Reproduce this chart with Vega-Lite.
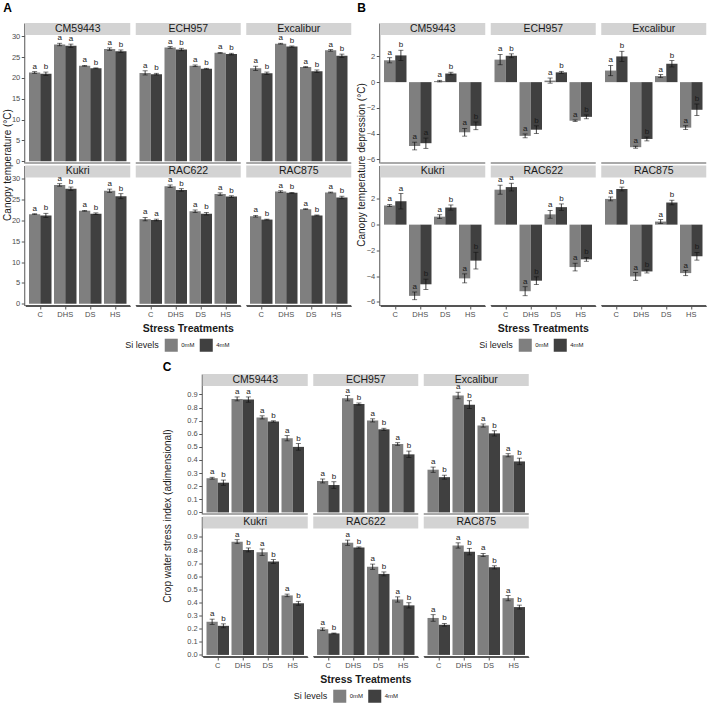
{
"$schema": "https://vega.github.io/schema/vega-lite/v6.json",
"padding": {"left": 3, "top": 2, "right": 2, "bottom": 1},
"datasets": {"d": [
{"f":"A","g":"CM59443","t":"C","s":"0mM","v":21.3,"e":0.2,"l":"a"},{"f":"A","g":"CM59443","t":"C","s":"4mM","v":21.0,"e":0.4,"l":"b"},
{"f":"A","g":"CM59443","t":"DHS","s":"0mM","v":28.0,"e":0.3,"l":"a"},{"f":"A","g":"CM59443","t":"DHS","s":"4mM","v":27.7,"e":0.4,"l":"a"},
{"f":"A","g":"CM59443","t":"DS","s":"0mM","v":22.9,"e":0.1,"l":"a"},{"f":"A","g":"CM59443","t":"DS","s":"4mM","v":22.3,"e":0.1,"l":"b"},
{"f":"A","g":"CM59443","t":"HS","s":"0mM","v":26.9,"e":0.3,"l":"a"},{"f":"A","g":"CM59443","t":"HS","s":"4mM","v":26.4,"e":0.3,"l":"b"},
{"f":"A","g":"ECH957","t":"C","s":"0mM","v":21.2,"e":0.5,"l":"a"},{"f":"A","g":"ECH957","t":"C","s":"4mM","v":20.9,"e":0.2,"l":"b"},
{"f":"A","g":"ECH957","t":"DHS","s":"0mM","v":27.3,"e":0.2,"l":"a"},{"f":"A","g":"ECH957","t":"DHS","s":"4mM","v":26.8,"e":0.3,"l":"b"},
{"f":"A","g":"ECH957","t":"DS","s":"0mM","v":22.9,"e":0.2,"l":"a"},{"f":"A","g":"ECH957","t":"DS","s":"4mM","v":22.2,"e":0.1,"l":"b"},
{"f":"A","g":"ECH957","t":"HS","s":"0mM","v":26.0,"e":0.1,"l":"a"},{"f":"A","g":"ECH957","t":"HS","s":"4mM","v":25.7,"e":0.2,"l":"b"},
{"f":"A","g":"Excalibur","t":"C","s":"0mM","v":22.3,"e":0.5,"l":"a"},{"f":"A","g":"Excalibur","t":"C","s":"4mM","v":21.1,"e":0.3,"l":"b"},
{"f":"A","g":"Excalibur","t":"DHS","s":"0mM","v":28.2,"e":0.1,"l":"a"},{"f":"A","g":"Excalibur","t":"DHS","s":"4mM","v":27.5,"e":0.15,"l":"b"},
{"f":"A","g":"Excalibur","t":"DS","s":"0mM","v":22.6,"e":0.1,"l":"a"},{"f":"A","g":"Excalibur","t":"DS","s":"4mM","v":21.6,"e":0.3,"l":"b"},
{"f":"A","g":"Excalibur","t":"HS","s":"0mM","v":26.6,"e":0.2,"l":"a"},{"f":"A","g":"Excalibur","t":"HS","s":"4mM","v":25.3,"e":0.4,"l":"b"},
{"f":"A","g":"Kukri","t":"C","s":"0mM","v":21.5,"e":0.1,"l":"a"},{"f":"A","g":"Kukri","t":"C","s":"4mM","v":21.2,"e":0.5,"l":"b"},
{"f":"A","g":"Kukri","t":"DHS","s":"0mM","v":28.5,"e":0.3,"l":"a"},{"f":"A","g":"Kukri","t":"DHS","s":"4mM","v":27.6,"e":0.4,"l":"b"},
{"f":"A","g":"Kukri","t":"DS","s":"0mM","v":22.3,"e":0.1,"l":"a"},{"f":"A","g":"Kukri","t":"DS","s":"4mM","v":21.6,"e":0.2,"l":"b"},
{"f":"A","g":"Kukri","t":"HS","s":"0mM","v":27.1,"e":0.4,"l":"a"},{"f":"A","g":"Kukri","t":"HS","s":"4mM","v":25.8,"e":0.6,"l":"b"},
{"f":"A","g":"RAC622","t":"C","s":"0mM","v":20.3,"e":0.4,"l":"a"},{"f":"A","g":"RAC622","t":"C","s":"4mM","v":20.1,"e":0.2,"l":"a"},
{"f":"A","g":"RAC622","t":"DHS","s":"0mM","v":28.2,"e":0.3,"l":"a"},{"f":"A","g":"RAC622","t":"DHS","s":"4mM","v":27.3,"e":0.3,"l":"b"},
{"f":"A","g":"RAC622","t":"DS","s":"0mM","v":22.2,"e":0.3,"l":"a"},{"f":"A","g":"RAC622","t":"DS","s":"4mM","v":21.6,"e":0.3,"l":"b"},
{"f":"A","g":"RAC622","t":"HS","s":"0mM","v":26.3,"e":0.3,"l":"a"},{"f":"A","g":"RAC622","t":"HS","s":"4mM","v":25.7,"e":0.2,"l":"b"},
{"f":"A","g":"RAC875","t":"C","s":"0mM","v":21.0,"e":0.2,"l":"a"},{"f":"A","g":"RAC875","t":"C","s":"4mM","v":20.2,"e":0.1,"l":"b"},
{"f":"A","g":"RAC875","t":"DHS","s":"0mM","v":26.9,"e":0.2,"l":"a"},{"f":"A","g":"RAC875","t":"DHS","s":"4mM","v":26.6,"e":0.1,"l":"b"},
{"f":"A","g":"RAC875","t":"DS","s":"0mM","v":22.7,"e":0.1,"l":"a"},{"f":"A","g":"RAC875","t":"DS","s":"4mM","v":21.2,"e":0.1,"l":"b"},
{"f":"A","g":"RAC875","t":"HS","s":"0mM","v":26.7,"e":0.1,"l":"a"},{"f":"A","g":"RAC875","t":"HS","s":"4mM","v":25.5,"e":0.3,"l":"b"},

{"f":"B","g":"CM59443","t":"C","s":"0mM","v":1.7,"e":0.2,"l":"a"},{"f":"B","g":"CM59443","t":"C","s":"4mM","v":2.08,"e":0.4,"l":"b"},
{"f":"B","g":"CM59443","t":"DHS","s":"0mM","v":-4.97,"e":0.3,"l":"a"},{"f":"B","g":"CM59443","t":"DHS","s":"4mM","v":-4.75,"e":0.4,"l":"a"},
{"f":"B","g":"CM59443","t":"DS","s":"0mM","v":0.08,"e":0.06,"l":"a"},{"f":"B","g":"CM59443","t":"DS","s":"4mM","v":0.67,"e":0.1,"l":"b"},
{"f":"B","g":"CM59443","t":"HS","s":"0mM","v":-3.9,"e":0.3,"l":"a"},{"f":"B","g":"CM59443","t":"HS","s":"4mM","v":-3.4,"e":0.3,"l":"b"},
{"f":"B","g":"ECH957","t":"C","s":"0mM","v":1.75,"e":0.4,"l":"a"},{"f":"B","g":"ECH957","t":"C","s":"4mM","v":2.05,"e":0.15,"l":"b"},
{"f":"B","g":"ECH957","t":"DHS","s":"0mM","v":-4.18,"e":0.15,"l":"a"},{"f":"B","g":"ECH957","t":"DHS","s":"4mM","v":-3.7,"e":0.3,"l":"b"},
{"f":"B","g":"ECH957","t":"DS","s":"0mM","v":0.12,"e":0.2,"l":"a"},{"f":"B","g":"ECH957","t":"DS","s":"4mM","v":0.76,"e":0.08,"l":"b"},
{"f":"B","g":"ECH957","t":"HS","s":"0mM","v":-3.0,"e":0.06,"l":"a"},{"f":"B","g":"ECH957","t":"HS","s":"4mM","v":-2.7,"e":0.15,"l":"b"},
{"f":"B","g":"Excalibur","t":"C","s":"0mM","v":0.9,"e":0.4,"l":"a"},{"f":"B","g":"Excalibur","t":"C","s":"4mM","v":2.0,"e":0.4,"l":"b"},
{"f":"B","g":"Excalibur","t":"DHS","s":"0mM","v":-5.06,"e":0.08,"l":"a"},{"f":"B","g":"Excalibur","t":"DHS","s":"4mM","v":-4.42,"e":0.15,"l":"b"},
{"f":"B","g":"Excalibur","t":"DS","s":"0mM","v":0.47,"e":0.12,"l":"a"},{"f":"B","g":"Excalibur","t":"DS","s":"4mM","v":1.43,"e":0.25,"l":"b"},
{"f":"B","g":"Excalibur","t":"HS","s":"0mM","v":-3.54,"e":0.15,"l":"a"},{"f":"B","g":"Excalibur","t":"HS","s":"4mM","v":-2.15,"e":0.45,"l":"b"},
{"f":"B","g":"Kukri","t":"C","s":"0mM","v":1.49,"e":0.08,"l":"a"},{"f":"B","g":"Kukri","t":"C","s":"4mM","v":1.82,"e":0.6,"l":"a"},
{"f":"B","g":"Kukri","t":"DHS","s":"0mM","v":-5.54,"e":0.3,"l":"a"},{"f":"B","g":"Kukri","t":"DHS","s":"4mM","v":-4.64,"e":0.4,"l":"b"},
{"f":"B","g":"Kukri","t":"DS","s":"0mM","v":0.62,"e":0.15,"l":"a"},{"f":"B","g":"Kukri","t":"DS","s":"4mM","v":1.33,"e":0.2,"l":"b"},
{"f":"B","g":"Kukri","t":"HS","s":"0mM","v":-4.18,"e":0.35,"l":"a"},{"f":"B","g":"Kukri","t":"HS","s":"4mM","v":-2.8,"e":0.65,"l":"b"},
{"f":"B","g":"RAC622","t":"C","s":"0mM","v":2.72,"e":0.35,"l":"a"},{"f":"B","g":"RAC622","t":"C","s":"4mM","v":2.92,"e":0.3,"l":"a"},
{"f":"B","g":"RAC622","t":"DHS","s":"0mM","v":-5.18,"e":0.35,"l":"a"},{"f":"B","g":"RAC622","t":"DHS","s":"4mM","v":-4.36,"e":0.3,"l":"b"},
{"f":"B","g":"RAC622","t":"DS","s":"0mM","v":0.8,"e":0.3,"l":"a"},{"f":"B","g":"RAC622","t":"DS","s":"4mM","v":1.36,"e":0.25,"l":"b"},
{"f":"B","g":"RAC622","t":"HS","s":"0mM","v":-3.3,"e":0.3,"l":"a"},{"f":"B","g":"RAC622","t":"HS","s":"4mM","v":-2.7,"e":0.15,"l":"b"},
{"f":"B","g":"RAC875","t":"C","s":"0mM","v":2.0,"e":0.15,"l":"a"},{"f":"B","g":"RAC875","t":"C","s":"4mM","v":2.77,"e":0.15,"l":"b"},
{"f":"B","g":"RAC875","t":"DHS","s":"0mM","v":-4.03,"e":0.3,"l":"a"},{"f":"B","g":"RAC875","t":"DHS","s":"4mM","v":-3.64,"e":0.12,"l":"b"},
{"f":"B","g":"RAC875","t":"DS","s":"0mM","v":0.24,"e":0.15,"l":"a"},{"f":"B","g":"RAC875","t":"DS","s":"4mM","v":1.72,"e":0.18,"l":"b"},
{"f":"B","g":"RAC875","t":"HS","s":"0mM","v":-3.77,"e":0.2,"l":"a"},{"f":"B","g":"RAC875","t":"HS","s":"4mM","v":-2.46,"e":0.3,"l":"b"},

{"f":"C","g":"CM59443","t":"C","s":"0mM","v":0.261,"e":0.007,"l":"a"},{"f":"C","g":"CM59443","t":"C","s":"4mM","v":0.227,"e":0.02,"l":"b"},
{"f":"C","g":"CM59443","t":"DHS","s":"0mM","v":0.866,"e":0.015,"l":"a"},{"f":"C","g":"CM59443","t":"DHS","s":"4mM","v":0.861,"e":0.02,"l":"a"},
{"f":"C","g":"CM59443","t":"DS","s":"0mM","v":0.725,"e":0.012,"l":"a"},{"f":"C","g":"CM59443","t":"DS","s":"4mM","v":0.694,"e":0.005,"l":"b"},
{"f":"C","g":"CM59443","t":"HS","s":"0mM","v":0.566,"e":0.02,"l":"a"},{"f":"C","g":"CM59443","t":"HS","s":"4mM","v":0.5,"e":0.025,"l":"b"},
{"f":"C","g":"ECH957","t":"C","s":"0mM","v":0.24,"e":0.015,"l":"a"},{"f":"C","g":"ECH957","t":"C","s":"4mM","v":0.209,"e":0.025,"l":"b"},
{"f":"C","g":"ECH957","t":"DHS","s":"0mM","v":0.871,"e":0.02,"l":"a"},{"f":"C","g":"ECH957","t":"DHS","s":"4mM","v":0.827,"e":0.008,"l":"b"},
{"f":"C","g":"ECH957","t":"DS","s":"0mM","v":0.702,"e":0.012,"l":"a"},{"f":"C","g":"ECH957","t":"DS","s":"4mM","v":0.634,"e":0.008,"l":"b"},
{"f":"C","g":"ECH957","t":"HS","s":"0mM","v":0.522,"e":0.01,"l":"a"},{"f":"C","g":"ECH957","t":"HS","s":"4mM","v":0.443,"e":0.025,"l":"b"},
{"f":"C","g":"Excalibur","t":"C","s":"0mM","v":0.326,"e":0.02,"l":"a"},{"f":"C","g":"Excalibur","t":"C","s":"4mM","v":0.269,"e":0.015,"l":"b"},
{"f":"C","g":"Excalibur","t":"DHS","s":"0mM","v":0.892,"e":0.025,"l":"a"},{"f":"C","g":"Excalibur","t":"DHS","s":"4mM","v":0.822,"e":0.03,"l":"b"},
{"f":"C","g":"Excalibur","t":"DS","s":"0mM","v":0.663,"e":0.012,"l":"a"},{"f":"C","g":"Excalibur","t":"DS","s":"4mM","v":0.603,"e":0.02,"l":"b"},
{"f":"C","g":"Excalibur","t":"HS","s":"0mM","v":0.436,"e":0.012,"l":"a"},{"f":"C","g":"Excalibur","t":"HS","s":"4mM","v":0.389,"e":0.025,"l":"b"},
{"f":"C","g":"Kukri","t":"C","s":"0mM","v":0.253,"e":0.02,"l":"a"},{"f":"C","g":"Kukri","t":"C","s":"4mM","v":0.222,"e":0.015,"l":"b"},
{"f":"C","g":"Kukri","t":"DHS","s":"0mM","v":0.864,"e":0.015,"l":"a"},{"f":"C","g":"Kukri","t":"DHS","s":"4mM","v":0.801,"e":0.015,"l":"b"},
{"f":"C","g":"Kukri","t":"DS","s":"0mM","v":0.783,"e":0.025,"l":"a"},{"f":"C","g":"Kukri","t":"DS","s":"4mM","v":0.712,"e":0.015,"l":"b"},
{"f":"C","g":"Kukri","t":"HS","s":"0mM","v":0.454,"e":0.01,"l":"a"},{"f":"C","g":"Kukri","t":"HS","s":"4mM","v":0.394,"e":0.015,"l":"b"},
{"f":"C","g":"RAC622","t":"C","s":"0mM","v":0.196,"e":0.01,"l":"a"},{"f":"C","g":"RAC622","t":"C","s":"4mM","v":0.164,"e":0.003,"l":"b"},
{"f":"C","g":"RAC622","t":"DHS","s":"0mM","v":0.856,"e":0.02,"l":"a"},{"f":"C","g":"RAC622","t":"DHS","s":"4mM","v":0.819,"e":0.005,"l":"b"},
{"f":"C","g":"RAC622","t":"DS","s":"0mM","v":0.673,"e":0.02,"l":"a"},{"f":"C","g":"RAC622","t":"DS","s":"4mM","v":0.618,"e":0.015,"l":"b"},
{"f":"C","g":"RAC622","t":"HS","s":"0mM","v":0.423,"e":0.02,"l":"a"},{"f":"C","g":"RAC622","t":"HS","s":"4mM","v":0.378,"e":0.02,"l":"b"},
{"f":"C","g":"RAC875","t":"C","s":"0mM","v":0.282,"e":0.025,"l":"a"},{"f":"C","g":"RAC875","t":"C","s":"4mM","v":0.23,"e":0.01,"l":"b"},
{"f":"C","g":"RAC875","t":"DHS","s":"0mM","v":0.835,"e":0.02,"l":"a"},{"f":"C","g":"RAC875","t":"DHS","s":"4mM","v":0.788,"e":0.025,"l":"b"},
{"f":"C","g":"RAC875","t":"DS","s":"0mM","v":0.762,"e":0.012,"l":"a"},{"f":"C","g":"RAC875","t":"DS","s":"4mM","v":0.668,"e":0.012,"l":"b"},
{"f":"C","g":"RAC875","t":"HS","s":"0mM","v":0.433,"e":0.02,"l":"a"},{"f":"C","g":"RAC875","t":"HS","s":"4mM","v":0.365,"e":0.015,"l":"b"}
]},
"vconcat": [
{"hconcat": [
{
 "title": {"text": "A", "offset": 8},
 "data": {"name": "d"},
 "transform": [
  {"filter": "datum.f == 'A'"},
  {"calculate": "indexof(['CM59443','ECH957','Excalibur','Kukri','RAC622','RAC875'], datum.g)", "as": "i"},
  {"calculate": "floor(datum.i / 3)", "as": "r"},
  {"calculate": "datum.i % 3", "as": "c"},
  {"calculate": "datum.v - datum.e", "as": "lo"},
  {"calculate": "datum.v + datum.e", "as": "hi"}
 ],
 "facet": {
  "row": {"field": "r", "type": "ordinal", "header": {"title": "Canopy temperature (°C)", "labels": false, "titleOrient": "left", "titlePadding": -12}},
  "column": {"field": "c", "type": "ordinal", "header": {"title": "Stress Treatments", "labels": false, "titleOrient": "bottom", "titleFontWeight": "bold", "titleFontSize": 10.5, "titlePadding": -4}}
 },
 "spacing": {"row": 1.5, "column": 3.5},
 "spec": {
  "width": 105, "height": 140,
  "layer": [
   {"transform": [{"filter": "datum.t == 'C' && datum.s == '0mM'"}], "mark": {"type": "rect", "fill": "#d3d3d3"}, "encoding": {"y": {"datum": 30.3, "scale": {"domain": [-0.4, 33.16], "nice": false}, "title": null, "axis": {"values": [0,5,10,15,20,25,30]}}, "y2": {"datum": 33.16}}},
   {"transform": [{"filter": "datum.t == 'C' && datum.s == '0mM'"}], "mark": {"type": "text", "fontSize": 10.5, "color": "#1a1a1a", "baseline": "middle"}, "encoding": {"y": {"datum": 31.73, "scale": {"domain": [-0.4, 33.16], "nice": false}, "title": null, "axis": {"values": [0,5,10,15,20,25,30]}}, "text": {"field": "g"}}},
   {"transform": [{"filter": "datum.t == 'C' && datum.s == '0mM'"}], "mark": {"type": "rule", "color": "#555555", "strokeWidth": 1}, "encoding": {"y": {"datum": -0.4, "scale": {"domain": [-0.4, 33.16], "nice": false}, "title": null, "axis": {"values": [0,5,10,15,20,25,30]}}}},
   {"mark": {"type": "bar"}, "encoding": {
     "x": {"field": "t", "type": "nominal", "scale": {"paddingInner": 0.1, "paddingOuter": 0.15}, "title": null},
     "xOffset": {"field": "s", "type": "nominal"},
     "y": {"field": "v", "type": "quantitative", "scale": {"domain": [-0.4, 33.16], "nice": false}, "title": null, "axis": {"values": [0,5,10,15,20,25,30]}},
     "color": {"field": "s", "type": "nominal", "scale": {"domain": ["0mM","4mM"], "range": ["#7f7f7f","#404040"]}, "legend": {"title": "Si levels"}}}},
   {"mark": {"type": "rule", "color": "#111111", "strokeWidth": 0.8}, "encoding": {"x": {"field": "t", "type": "nominal"}, "xOffset": {"field": "s", "type": "nominal"}, "y": {"field": "lo", "type": "quantitative", "scale": {"domain": [-0.4, 33.16], "nice": false}, "title": null, "axis": {"values": [0,5,10,15,20,25,30]}}, "y2": {"field": "hi"}}},
   {"mark": {"type": "tick", "color": "#111111", "thickness": 0.8, "size": 5}, "encoding": {"x": {"field": "t", "type": "nominal"}, "xOffset": {"field": "s", "type": "nominal"}, "y": {"field": "lo", "type": "quantitative", "scale": {"domain": [-0.4, 33.16], "nice": false}, "title": null, "axis": {"values": [0,5,10,15,20,25,30]}}}},
   {"mark": {"type": "tick", "color": "#111111", "thickness": 0.8, "size": 5}, "encoding": {"x": {"field": "t", "type": "nominal"}, "xOffset": {"field": "s", "type": "nominal"}, "y": {"field": "hi", "type": "quantitative", "scale": {"domain": [-0.4, 33.16], "nice": false}, "title": null, "axis": {"values": [0,5,10,15,20,25,30]}}}},
   {"mark": {"type": "text", "fontSize": 8, "color": "#1a1a1a", "baseline": "bottom", "dy": -1}, "encoding": {"x": {"field": "t", "type": "nominal"}, "xOffset": {"field": "s", "type": "nominal"}, "y": {"field": "hi", "type": "quantitative", "scale": {"domain": [-0.4, 33.16], "nice": false}, "title": null, "axis": {"values": [0,5,10,15,20,25,30]}}, "text": {"field": "l"}}}
  ]
 }
},
{
 "title": {"text": "B", "offset": 8},
 "data": {"name": "d"},
 "transform": [
  {"filter": "datum.f == 'B'"},
  {"calculate": "indexof(['CM59443','ECH957','Excalibur','Kukri','RAC622','RAC875'], datum.g)", "as": "i"},
  {"calculate": "floor(datum.i / 3)", "as": "r"},
  {"calculate": "datum.i % 3", "as": "c"},
  {"calculate": "datum.v - datum.e", "as": "lo"},
  {"calculate": "datum.v + datum.e", "as": "hi"}
 ],
 "facet": {
  "row": {"field": "r", "type": "ordinal", "header": {"title": "Canopy temperature depression (°C)", "labels": false, "titleOrient": "left", "titlePadding": -12}},
  "column": {"field": "c", "type": "ordinal", "header": {"title": "Stress Treatments", "labels": false, "titleOrient": "bottom", "titleFontWeight": "bold", "titleFontSize": 10.5, "titlePadding": -4}}
 },
 "spacing": {"row": 1.5, "column": 3.5},
 "spec": {
  "width": 105, "height": 140,
  "layer": [
   {"transform": [{"filter": "datum.t == 'C' && datum.s == '0mM'"}], "mark": {"type": "rect", "fill": "#d3d3d3"}, "encoding": {"y": {"datum": 3.67, "scale": {"domain": [-6.29, 4.6], "nice": false}, "title": null, "axis": {"values": [-6,-4,-2,0,2]}}, "y2": {"datum": 4.6}}},
   {"transform": [{"filter": "datum.t == 'C' && datum.s == '0mM'"}], "mark": {"type": "text", "fontSize": 10.5, "color": "#1a1a1a", "baseline": "middle"}, "encoding": {"y": {"datum": 4.135, "scale": {"domain": [-6.29, 4.6], "nice": false}, "title": null, "axis": {"values": [-6,-4,-2,0,2]}}, "text": {"field": "g"}}},
   {"transform": [{"filter": "datum.t == 'C' && datum.s == '0mM'"}], "mark": {"type": "rule", "color": "#555555", "strokeWidth": 1}, "encoding": {"y": {"datum": -6.29, "scale": {"domain": [-6.29, 4.6], "nice": false}, "title": null, "axis": {"values": [-6,-4,-2,0,2]}}}},
   {"mark": {"type": "bar"}, "encoding": {
     "x": {"field": "t", "type": "nominal", "scale": {"paddingInner": 0.1, "paddingOuter": 0.15}, "title": null},
     "xOffset": {"field": "s", "type": "nominal"},
     "y": {"field": "v", "type": "quantitative", "scale": {"domain": [-6.29, 4.6], "nice": false}, "title": null, "axis": {"values": [-6,-4,-2,0,2]}},
     "color": {"field": "s", "type": "nominal", "scale": {"domain": ["0mM","4mM"], "range": ["#7f7f7f","#404040"]}, "legend": {"title": "Si levels"}}}},
   {"mark": {"type": "rule", "color": "#111111", "strokeWidth": 0.8}, "encoding": {"x": {"field": "t", "type": "nominal"}, "xOffset": {"field": "s", "type": "nominal"}, "y": {"field": "lo", "type": "quantitative", "scale": {"domain": [-6.29, 4.6], "nice": false}, "title": null, "axis": {"values": [-6,-4,-2,0,2]}}, "y2": {"field": "hi"}}},
   {"mark": {"type": "tick", "color": "#111111", "thickness": 0.8, "size": 5}, "encoding": {"x": {"field": "t", "type": "nominal"}, "xOffset": {"field": "s", "type": "nominal"}, "y": {"field": "lo", "type": "quantitative", "scale": {"domain": [-6.29, 4.6], "nice": false}, "title": null, "axis": {"values": [-6,-4,-2,0,2]}}}},
   {"mark": {"type": "tick", "color": "#111111", "thickness": 0.8, "size": 5}, "encoding": {"x": {"field": "t", "type": "nominal"}, "xOffset": {"field": "s", "type": "nominal"}, "y": {"field": "hi", "type": "quantitative", "scale": {"domain": [-6.29, 4.6], "nice": false}, "title": null, "axis": {"values": [-6,-4,-2,0,2]}}}},
   {"mark": {"type": "text", "fontSize": 8, "color": "#1a1a1a", "baseline": "bottom", "dy": -1}, "encoding": {"x": {"field": "t", "type": "nominal"}, "xOffset": {"field": "s", "type": "nominal"}, "y": {"field": "hi", "type": "quantitative", "scale": {"domain": [-6.29, 4.6], "nice": false}, "title": null, "axis": {"values": [-6,-4,-2,0,2]}}, "text": {"field": "l"}}}
  ]
 }
}
], "spacing": 4, "resolve": {"scale": {"color": "independent"}}},
{
 "title": {"text": "C", "offset": 0},
 "data": {"name": "d"},
 "transform": [
  {"filter": "datum.f == 'C'"},
  {"calculate": "indexof(['CM59443','ECH957','Excalibur','Kukri','RAC622','RAC875'], datum.g)", "as": "i"},
  {"calculate": "floor(datum.i / 3)", "as": "r"},
  {"calculate": "datum.i % 3", "as": "c"},
  {"calculate": "datum.v - datum.e", "as": "lo"},
  {"calculate": "datum.v + datum.e", "as": "hi"}
 ],
 "facet": {
  "row": {"field": "r", "type": "ordinal", "header": {"title": "Crop water stress index (adimensional)", "labels": false, "titleOrient": "left", "titlePadding": 4}},
  "column": {"field": "c", "type": "ordinal", "header": {"title": "Stress Treatments", "labels": false, "titleOrient": "bottom", "titleFontWeight": "bold", "titleFontSize": 10.5, "titlePadding": -4}}
 },
 "spacing": {"row": 1.5, "column": 3.5},
 "spec": {
  "width": 105, "height": 140,
  "layer": [
   {"transform": [{"filter": "datum.t == 'C' && datum.s == '0mM'"}], "mark": {"type": "rect", "fill": "#d3d3d3"}, "encoding": {"y": {"datum": 0.965, "scale": {"domain": [-0.012, 1.056], "nice": false}, "title": null, "axis": {"values": [0,0.1,0.2,0.3,0.4,0.5,0.6,0.7,0.8,0.9], "format": ".1f"}}, "y2": {"datum": 1.056}}},
   {"transform": [{"filter": "datum.t == 'C' && datum.s == '0mM'"}], "mark": {"type": "text", "fontSize": 10.5, "color": "#1a1a1a", "baseline": "middle"}, "encoding": {"y": {"datum": 1.0105, "scale": {"domain": [-0.012, 1.056], "nice": false}, "title": null, "axis": {"values": [0,0.1,0.2,0.3,0.4,0.5,0.6,0.7,0.8,0.9], "format": ".1f"}}, "text": {"field": "g"}}},
   {"transform": [{"filter": "datum.t == 'C' && datum.s == '0mM'"}], "mark": {"type": "rule", "color": "#555555", "strokeWidth": 1}, "encoding": {"y": {"datum": -0.012, "scale": {"domain": [-0.012, 1.056], "nice": false}, "title": null, "axis": {"values": [0,0.1,0.2,0.3,0.4,0.5,0.6,0.7,0.8,0.9], "format": ".1f"}}}},
   {"mark": {"type": "bar"}, "encoding": {
     "x": {"field": "t", "type": "nominal", "scale": {"paddingInner": 0.1, "paddingOuter": 0.15}, "title": null},
     "xOffset": {"field": "s", "type": "nominal"},
     "y": {"field": "v", "type": "quantitative", "scale": {"domain": [-0.012, 1.056], "nice": false}, "title": null, "axis": {"values": [0,0.1,0.2,0.3,0.4,0.5,0.6,0.7,0.8,0.9], "format": ".1f"}},
     "color": {"field": "s", "type": "nominal", "scale": {"domain": ["0mM","4mM"], "range": ["#7f7f7f","#404040"]}, "legend": {"title": "Si levels"}}}},
   {"mark": {"type": "rule", "color": "#111111", "strokeWidth": 0.8}, "encoding": {"x": {"field": "t", "type": "nominal"}, "xOffset": {"field": "s", "type": "nominal"}, "y": {"field": "lo", "type": "quantitative", "scale": {"domain": [-0.012, 1.056], "nice": false}, "title": null, "axis": {"values": [0,0.1,0.2,0.3,0.4,0.5,0.6,0.7,0.8,0.9], "format": ".1f"}}, "y2": {"field": "hi"}}},
   {"mark": {"type": "tick", "color": "#111111", "thickness": 0.8, "size": 5}, "encoding": {"x": {"field": "t", "type": "nominal"}, "xOffset": {"field": "s", "type": "nominal"}, "y": {"field": "lo", "type": "quantitative", "scale": {"domain": [-0.012, 1.056], "nice": false}, "title": null, "axis": {"values": [0,0.1,0.2,0.3,0.4,0.5,0.6,0.7,0.8,0.9], "format": ".1f"}}}},
   {"mark": {"type": "tick", "color": "#111111", "thickness": 0.8, "size": 5}, "encoding": {"x": {"field": "t", "type": "nominal"}, "xOffset": {"field": "s", "type": "nominal"}, "y": {"field": "hi", "type": "quantitative", "scale": {"domain": [-0.012, 1.056], "nice": false}, "title": null, "axis": {"values": [0,0.1,0.2,0.3,0.4,0.5,0.6,0.7,0.8,0.9], "format": ".1f"}}}},
   {"mark": {"type": "text", "fontSize": 8, "color": "#1a1a1a", "baseline": "bottom", "dy": -1}, "encoding": {"x": {"field": "t", "type": "nominal"}, "xOffset": {"field": "s", "type": "nominal"}, "y": {"field": "hi", "type": "quantitative", "scale": {"domain": [-0.012, 1.056], "nice": false}, "title": null, "axis": {"values": [0,0.1,0.2,0.3,0.4,0.5,0.6,0.7,0.8,0.9], "format": ".1f"}}, "text": {"field": "l"}}}
  ]
 }
}
],
"spacing": 9,
"center": true,
"resolve": {"scale": {"color": "independent"}},
"config": {
 "font": "Liberation Sans",
 "view": {"stroke": null},
 "axis": {"labelFontSize": 7.5, "labelColor": "#4d4d4d", "tickColor": "#555555", "domainColor": "#555555", "tickSize": 3, "labelPadding": 1.5, "grid": false, "labelFont": "Liberation Sans", "labelOverlap": false, "minExtent": 0},
 "axisY": {"minExtent": 0},
 "axisX": {"labelAngle": 0},
 "header": {"titleFont": "Liberation Sans", "titleFontSize": 10, "titleColor": "#1a1a1a", "titleFontWeight": "normal", "labelPadding": 0},
 "legend": {"orient": "bottom", "direction": "horizontal", "titleOrient": "left", "titleFontSize": 9, "titleFontWeight": "normal", "titleColor": "#1a1a1a", "labelFontSize": 6, "labelColor": "#1a1a1a", "symbolType": "square", "symbolSize": 170, "symbolStrokeWidth": 0, "symbolOpacity": 1, "columnPadding": 4, "labelOffset": 3, "titlePadding": 5, "offset": 3, "layout": {"bottom": {"anchor": "middle"}}},
 "title": {"anchor": "start", "fontSize": 12, "fontWeight": "bold", "font": "Liberation Sans", "color": "#000000"}
}
}
